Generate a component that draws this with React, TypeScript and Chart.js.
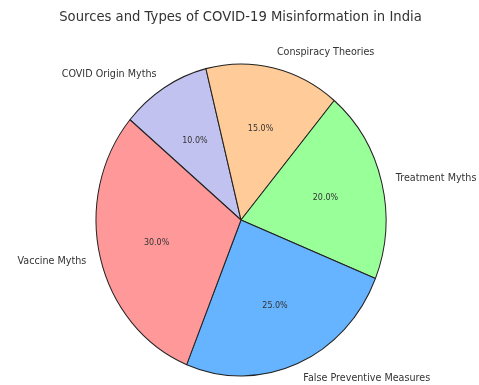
import React, { useEffect, useRef } from "react";
import { Chart, registerables } from "chart.js";

Chart.register(...registerables);

const TITLE = "Sources and Types of COVID-19 Misinformation in India";
// matplotlib order (counter-clockwise from startangle 140°)
const categories = [
  "Vaccine Myths",
  "False Preventive Measures",
  "Treatment Myths",
  "Conspiracy Theories",
  "COVID Origin Myths",
];
const shares = [30, 25, 20, 15, 10];
const sliceColors = ["#ff9999", "#66b3ff", "#99ff99", "#ffcc99", "#c2c2f0"];

// Chart.js draws clockwise, so reverse to reproduce the counter-clockwise layout
const drawLabels = [...categories].reverse();
const drawValues = [...shares].reverse();
const drawColors = [...sliceColors].reverse();

const STRETCH = 156 / 145;
const FONT = "'DejaVu Sans', 'Liberation Sans', sans-serif";

const piePlugin = {
  id: "piePlugin",
  beforeDatasetsDraw(chart: any) {
    const arc = chart.getDatasetMeta(0).data[0];
    const ctx = chart.ctx;
    ctx.save();
    ctx.translate(arc.x, arc.y);
    ctx.scale(1, STRETCH);
    ctx.translate(-arc.x, -arc.y);
  },
  afterDatasetsDraw(chart: any) {
    const ctx = chart.ctx;
    ctx.restore();
    const meta = chart.getDatasetMeta(0);
    const total = drawValues.reduce((a, b) => a + b, 0);
    const text = (s: string, x: number, y: number, align: CanvasTextAlign, font: string, color: string) => {
      ctx.save();
      ctx.translate(x, y);
      ctx.scale(1, STRETCH);
      ctx.font = font;
      ctx.fillStyle = color;
      ctx.textAlign = align;
      ctx.textBaseline = "middle";
      ctx.fillText(s, 0, 0);
      ctx.restore();
    };
    meta.data.forEach((arc: any, i: number) => {
      const mid = (arc.startAngle + arc.endAngle) / 2;
      const r = arc.outerRadius;
      const c = Math.cos(mid);
      const s = Math.sin(mid);
      const lx = arc.x + 1.1 * r * c;
      const ly = arc.y + 1.1 * r * s * STRETCH;
      text(drawLabels[i], lx, ly, c > 0 ? "left" : "right", `9.6px ${FONT}`, "#333");
      const px = arc.x + 0.6 * r * c;
      const py = arc.y + 0.6 * r * s * STRETCH;
      const pct = ((drawValues[i] / total) * 100).toFixed(1) + "%";
      text(pct, px, py, "center", `8px ${FONT}`, "#333");
    });
    text(TITLE, 240.5, 17.5, "center", `13.2px ${FONT}`, "#333");
  },
};

export default function App() {
  const ref = useRef<HTMLCanvasElement>(null);
  useEffect(() => {
    if (!ref.current) return;
    const chart = new Chart(ref.current, {
      type: "pie",
      data: {
        labels: drawLabels,
        datasets: [
          {
            data: drawValues,
            backgroundColor: drawColors,
            borderColor: "#222",
            borderWidth: 1,
            hoverOffset: 0,
          },
        ],
      },
      options: {
        responsive: false,
        animation: false,
        rotation: -50,
        radius: 145,
        layout: { padding: { left: 96, right: 93, top: 75, bottom: 20 } },
        plugins: {
          legend: { display: false },
          tooltip: { enabled: false },
          title: { display: false },
        },
      } as any,
      plugins: [piePlugin],
    });
    return () => chart.destroy();
  }, []);
  return (
    <div style={{ position: "fixed", left: 0, top: 0, width: 479, height: 385, background: "#fff" }}>
      <canvas ref={ref} width={479} height={385} style={{ display: "block" }} />
    </div>
  );
}
